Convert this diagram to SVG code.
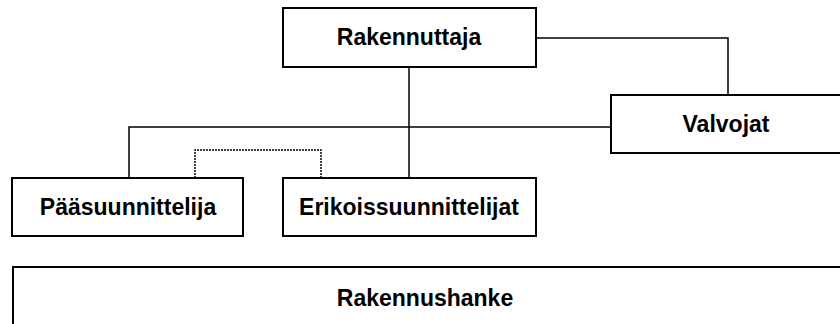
<svg xmlns="http://www.w3.org/2000/svg" width="840" height="324" viewBox="0 0 840 324">
<style>
.box{fill:#fff;stroke:#000;stroke-width:2}
.lbl{font-family:"Liberation Sans",Arial,sans-serif;font-weight:bold;font-size:23px;fill:#000;text-anchor:middle}
.ln{fill:none;stroke:#000;stroke-width:1.5}
.dot{fill:none;stroke:#000;stroke-width:1.5;stroke-dasharray:2 1}
</style>
<rect width="840" height="324" fill="#fff"/>
<g id="connectors">
<path class="ln" d="M536 38 H728 V95"/>
<path class="ln" d="M409 67 V178"/>
<path class="ln" d="M129 178 V127 H611"/>
<path class="dot" d="M195 178 V150 H321 V178"/>
</g>
<g id="rakennuttaja"><rect class="box" x="283" y="8" width="253" height="59"/><text class="lbl" x="409" y="45">Rakennuttaja</text></g>
<g id="valvojat"><rect class="box" x="611" y="95" width="232" height="58"/><text class="lbl" x="726" y="132">Valvojat</text></g>
<g id="paasuunnittelija"><rect class="box" x="12" y="178" width="231" height="58"/><text class="lbl" x="128" y="215">Pääsuunnittelija</text></g>
<g id="erikoissuunnittelijat"><rect class="box" x="283" y="178" width="253" height="58"/><text class="lbl" x="409" y="215">Erikoissuunnittelijat</text></g>
<g id="rakennushanke"><rect class="box" x="13" y="267" width="830" height="62"/><text class="lbl" x="425" y="306">Rakennushanke</text></g>
</svg>
